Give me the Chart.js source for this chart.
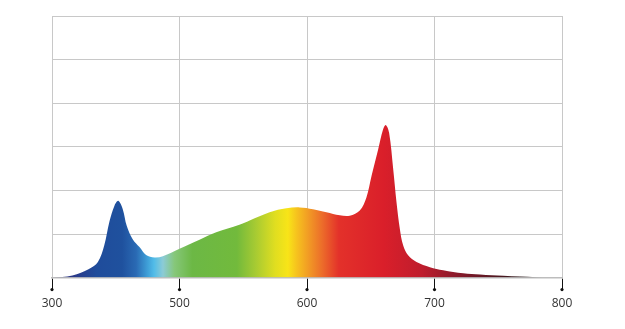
<!DOCTYPE html>
<html>
<head>
<meta charset="utf-8">
<script src="https://cdn.jsdelivr.net/npm/chart.js@4.4.1/dist/chart.umd.min.js"></script>
<style>
    html, body { margin: 0; padding: 0; background: #fff; }
    #wrap { width: 625px; height: 329px; position: relative; }
</style>
</head>
<body>
<div id="wrap"><canvas id="spectrum"></canvas></div>
<script>
// --- data ---
const wavelengths = [400, 416, 429, 436, 441, 445, 449, 452, 455.5, 458.6, 463.3, 468.6, 473.8, 480.4, 486.9,
    500, 515.7, 528.8, 547, 555, 570.7, 583.8, 594.3, 604.7, 615.2, 625.7, 633.5, 641.4, 646.6, 650.6, 655.8,
    659.7, 661.8, 664.4, 667.6, 670.2, 672.8, 675.4, 679.3, 685.9, 696.4, 706.8, 722.5, 735.7, 754, 780, 800];
const intensity = [0, 0.05, 0.2, 0.36, 0.74, 1.28, 1.65, 1.76, 1.57, 1.19, 0.88, 0.70, 0.52, 0.46, 0.49,
    0.66, 0.87, 1.04, 1.21, 1.31, 1.50, 1.59, 1.61, 1.57, 1.50, 1.43, 1.42, 1.54, 1.84, 2.33, 2.94,
    3.40, 3.50, 3.32, 2.49, 1.73, 1.12, 0.74, 0.51, 0.36, 0.24, 0.17, 0.10, 0.07, 0.04, 0.01, 0];
const xTicks = [400, 500, 600, 700, 800];
const xTickLabels = ['300', '500', '600', '700', '800'];

// spectrum colours along the x axis (nm, colour)
const spectrumStops = [
    [400, '#2e2a74'], [420, '#283c8c'], [435, '#1f4c9b'], [455, '#1f519e'], [466, '#2a6ab4'],
    [475, '#3fa0d8'], [480, '#52bce8'], [487, '#8ccbd6'], [496, '#86c77a'], [510, '#6cb845'],
    [545, '#72ba3c'], [560, '#a8cb32'], [575, '#e0de20'], [585, '#f8e418'], [592, '#f6c21e'],
    [600, '#f2a024'], [612, '#ec6c2a'], [625, '#e3312a'], [660, '#da1f2a'], [690, '#bf1d2d'],
    [715, '#8e1a2b'], [745, '#581822'], [770, '#2a1a1c'], [788, '#8a8a8a'], [800, '#d0d0d0']
];

function spectrumFill(context) {
    const chart = context.chart;
    const area = chart.chartArea;
    if (!area) return '#1f519e';
    const xs = chart.scales.x;
    const g = chart.ctx.createLinearGradient(area.left, 0, area.right, 0);
    const span = area.right - area.left;
    spectrumStops.forEach(([nm, c]) => {
        g.addColorStop((xs.getPixelForValue(nm) - area.left) / span, c);
    });
    return g;
}

// little dots at the end of the x tick marks
const tickDots = {
    id: 'tickDots',
    afterDraw(chart) {
        const ctx = chart.ctx;
        const xs = chart.scales.x;
        const y = chart.chartArea.bottom + 12;
        ctx.save();
        ctx.fillStyle = '#111';
        xTicks.forEach(v => {
            ctx.beginPath();
            ctx.arc(xs.getPixelForValue(v), y, 1.6, 0, Math.PI * 2);
            ctx.fill();
        });
        ctx.restore();
    }
};

new Chart(document.getElementById('spectrum'), {
    type: 'line',
    data: {
        datasets: [{
            data: wavelengths.map((w, i) => ({ x: w, y: intensity[i] })),
            fill: 'origin',
            backgroundColor: spectrumFill,
            borderWidth: 0,
            pointRadius: 0,
            tension: 0.35
        }]
    },
    options: {
        responsive: true,
        maintainAspectRatio: false,
        animation: false,
        layout: { padding: { left: 52, right: 63, top: 16, bottom: 11 } },
        plugins: { legend: { display: false }, tooltip: { enabled: false } },
        scales: {
            x: {
                type: 'linear',
                min: 400,
                max: 800,
                afterBuildTicks: axis => { axis.ticks = xTicks.map(v => ({ value: v })); },
                grid: { color: '#c8c8c8', tickColor: '#111', tickLength: 12, lineWidth: 1 },
                border: { color: '#bdbdbd', width: 1.5 },
                ticks: {
                    color: '#333',
                    padding: 7,
                    font: { family: 'Open Sans', size: 12 },
                    callback: v => xTickLabels[xTicks.indexOf(v)]
                }
            },
            y: {
                min: 0,
                max: 6,
                ticks: { display: false, stepSize: 1 },
                grid: { color: '#c8c8c8', drawTicks: false },
                border: { display: false }
            }
        }
    },
    plugins: [tickDots]
});
</script>
</body>
</html>
